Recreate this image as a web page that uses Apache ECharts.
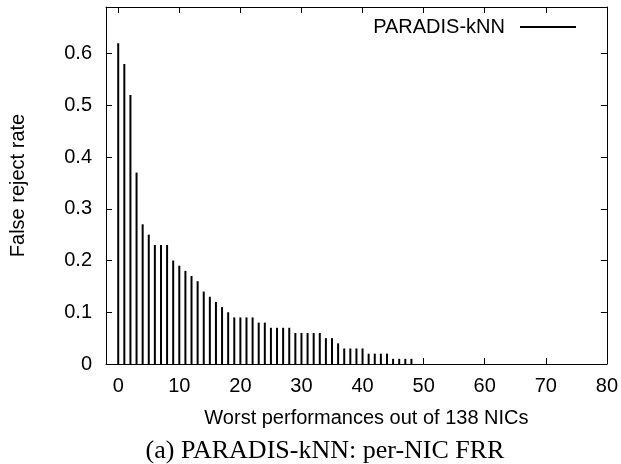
<!DOCTYPE html>
<html>
<head>
<meta charset="utf-8">
<script src="https://cdn.jsdelivr.net/npm/echarts@6/dist/echarts.min.js"></script>
<style>
  html, body { margin: 0; padding: 0; background: #fff; }
  #chart { width: 621px; height: 464px; }
</style>
</head>
<body>
<div id="chart"></div>
<script>
// rank of the NIC (worst first) and its false reject rate
const ranks = [0, 1, 2, 3, 4, 5, 6, 7, 8, 9, 10, 11, 12, 13, 14, 15, 16, 17, 18, 19,
  20, 21, 22, 23, 24, 25, 26, 27, 28, 29, 30, 31, 32, 33, 34, 35, 36, 37, 38, 39,
  40, 41, 42, 43, 44, 45, 46, 47, 48]
const frr = [0.62, 0.58, 0.52, 0.37, 0.27, 0.25, 0.23, 0.23, 0.23, 0.20,
  0.19, 0.18, 0.17, 0.16, 0.14, 0.13, 0.12, 0.11, 0.10, 0.09,
  0.09, 0.09, 0.09, 0.08, 0.08, 0.07, 0.07, 0.07, 0.07, 0.06,
  0.06, 0.06, 0.06, 0.06, 0.05, 0.05, 0.04, 0.03, 0.03, 0.03,
  0.03, 0.02, 0.02, 0.02, 0.02, 0.01, 0.01, 0.01, 0.01]
const xTicks = [0, 10, 20, 30, 40, 50, 60, 70, 80]
const yTicks = [0, 0.1, 0.2, 0.3, 0.4, 0.5, 0.6]

const font = 'Liberation Sans, Arial, sans-serif'

const chart = echarts.init(document.getElementById('chart'))

// gnuplot style box: ticks point inward on all four sides
const boxAxis = (ticks, show, margin) => ({
  axisLine: { show: true, onZero: false, lineStyle: { color: '#000', width: 1 } },
  axisTick: { show: true, inside: true, length: 6, customValues: ticks, lineStyle: { color: '#000' } },
  axisLabel: { show: show, margin: margin, customValues: ticks, color: '#000', fontFamily: font, fontSize: 20 },
  splitLine: { show: false }
})

chart.setOption({
  animation: false,
  title: {
    text: '(a) PARADIS-kNN: per-NIC FRR',
    left: 320,
    top: 433,
    textAlign: 'center',
    textStyle: { fontFamily: 'Liberation Serif, serif', fontWeight: 'normal', fontSize: 26, color: '#000' }
  },
  legend: {
    right: 40,
    top: 12,
    align: 'right',
    icon: 'rect',
    itemWidth: 56,
    itemHeight: 2,
    textStyle: { fontFamily: font, fontSize: 20, color: '#000', padding: [0, 10, 0, 0] },
    data: ['PARADIS-kNN']
  },
  grid: { left: 105, right: 14, top: 7, bottom: 100 },
  xAxis: [
    Object.assign({
      type: 'value', position: 'bottom', min: -2, max: 80,
      name: 'Worst performances out of 138 NICs',
      nameLocation: 'middle',
      nameGap: 44,
      nameTextStyle: { fontFamily: font, fontSize: 20, color: '#000', padding: [0, 0, 0, 20] }
    }, boxAxis(xTicks, true, 12)),
    Object.assign({ type: 'value', position: 'top', min: -2, max: 80 }, boxAxis(xTicks, false, 8))
  ],
  yAxis: [
    Object.assign({
      type: 'value', position: 'left', min: 0, max: 0.69,
      name: 'False reject rate',
      nameLocation: 'middle',
      nameGap: 78,
      nameTextStyle: { fontFamily: font, fontSize: 20, color: '#000' }
    }, boxAxis(yTicks, true, 14)),
    Object.assign({ type: 'value', position: 'right', min: 0, max: 0.69 }, boxAxis(yTicks, false, 8))
  ],
  series: [{
    name: 'PARADIS-kNN',
    type: 'bar',
    barWidth: 2,
    itemStyle: { color: '#000' },
    data: ranks.map((r, i) => [r, frr[i]])
  }]
})
</script>
</body>
</html>
